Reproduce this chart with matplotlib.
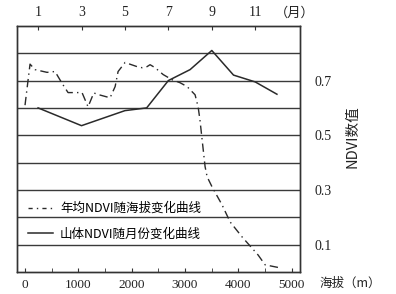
import matplotlib
matplotlib.use("Agg")
import matplotlib.pyplot as plt
from matplotlib.lines import Line2D

plt.rcParams['font.family'] = ['Liberation Serif', 'Noto Sans CJK SC', 'DejaVu Sans']

# Annual mean NDVI vs altitude (dash-dot curve)
altitude = [0, 56, 94, 188, 413, 563, 694, 807, 1069, 1182, 1290, 1350, 1595, 1690,
            1745, 1876, 2100, 2195, 2289, 2345, 2439, 2590, 2758, 2908, 3039, 3189,
            3246, 3280, 3321, 3377, 3415, 3508, 3696, 3846, 4071, 4371, 4503, 4784]
ndvi_alt = [0.61, 0.70, 0.76, 0.74, 0.73, 0.733, 0.69, 0.656, 0.656, 0.604, 0.655, 0.65,
            0.637, 0.678, 0.733, 0.766, 0.751, 0.747, 0.751, 0.758, 0.747, 0.722, 0.703,
            0.692, 0.678, 0.648, 0.604, 0.557, 0.484, 0.385, 0.348, 0.311, 0.245, 0.183,
            0.128, 0.062, 0.026, 0.015]

# Mountain NDVI vs month (solid curve)
months = [1, 3, 5, 6, 7, 8, 9, 10, 11, 12]
ndvi_month = [0.60, 0.535, 0.59, 0.60, 0.70, 0.74, 0.81, 0.72, 0.695, 0.65]

alt_ticks = [0, 1000, 2000, 3000, 4000, 5000]
alt_minor = [500, 1500, 2500, 3500, 4500]
month_ticks = [1, 3, 5, 7, 9, 11]
y_ticks = [0.1, 0.3, 0.5, 0.7]
grid_levels = [0.1, 0.2, 0.3, 0.4, 0.5, 0.6, 0.7, 0.8]

legend_labels = ['年均NDVI随海拔变化曲线', '山体NDVI随月份变化曲线']

fig = plt.figure(figsize=(3.96, 2.94), dpi=100)
ax = fig.add_axes([0.043, 0.075, 0.715, 0.837])
ax.set_xlim(-150, 5160)
ax.set_ylim(0, 0.9)

lc = '#2a2a2a'
for g in grid_levels:
    ax.axhline(g, color='#3a3a3a', lw=1.0, zorder=1)

ax.plot(altitude, ndvi_alt, color=lc, lw=1.0, linestyle=(0, (6, 3, 1, 3)), zorder=3)

ax2 = ax.twiny()
ax2.set_xlim(0.03, 13.07)
ax2.plot(months, ndvi_month, color=lc, lw=1.1, zorder=3)

for a in (ax, ax2):
    for s in a.spines.values():
        s.set_color('#333333')
        s.set_linewidth(1.0)

ax.set_xticks(alt_ticks)
ax.set_xticks(alt_minor, minor=True)
ax.set_xticklabels([str(t) for t in alt_ticks], fontsize=9.5)
ax.tick_params(axis='x', which='both', direction='in', length=3, pad=5, colors='#333333')
ax.tick_params(axis='x', labelcolor='#222222')

ax.yaxis.tick_right()
ax.set_yticks(y_ticks)
ax.set_yticklabels([str(t) for t in y_ticks], fontsize=10)
ax.tick_params(axis='y', length=0, pad=10, labelcolor='#222222')

ax2.set_xticks(month_ticks)
ax2.set_xticklabels([str(m) for m in month_ticks], fontsize=10)
ax2.tick_params(axis='x', direction='in', length=3, pad=5, colors='#333333', labelcolor='#222222')

fig.text(0.745, 0.955, '（月）', fontsize=9.5, ha='center', va='center',
         family=['Noto Sans CJK SC'], color='#222222')
fig.text(0.885, 0.038, '海拔（m）', fontsize=9, ha='center', va='center',
         family=['Noto Sans CJK SC', 'Liberation Serif'], color='#222222')
fig.text(0.889, 0.534, 'NDVI数值', fontsize=10.5, ha='center', va='center', rotation=90,
         family=['Noto Sans CJK SC'], color='#222222')

handles = [Line2D([], [], color=lc, lw=1.0, linestyle=(0, (3, 3, 1, 3))),
           Line2D([], [], color=lc, lw=1.1)]
leg = ax.legend(handles, legend_labels, loc='upper left', bbox_to_anchor=(0.015, 0.31),
                frameon=False, prop={'family': ['Noto Sans CJK SC'], 'size': 9},
                handlelength=2.0, handletextpad=0.6, labelspacing=1.0, borderpad=0)

fig.savefig('out.png', dpi=100, facecolor='white')
